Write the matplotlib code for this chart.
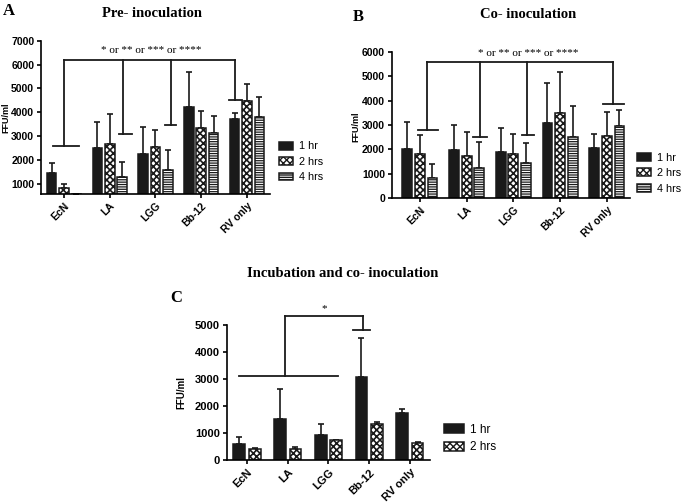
import numpy as np
import matplotlib.pyplot as plt

groups = ['EcN', 'LA', 'LGG', 'Bb-12', 'RV only']

# panel A: pre-inoculation
a_1hr = [1450, 2500, 2250, 4200, 3700]
a_1hr_err = [1870, 3600, 3390, 5680, 3950]
a_2hrs = [800, 2670, 2530, 3330, 4480]
a_2hrs_err = [1000, 3940, 3250, 4050, 5170]
a_4hrs = [580, 1270, 1550, 3140, 3800]
a_4hrs_err = [580, 1890, 2400, 3850, 4650]

# panel B: co-inoculation
b_1hr = [2010, 1960, 1900, 3070, 2060]
b_1hr_err = [3110, 3000, 2890, 4720, 2650]
b_2hrs = [1790, 1730, 1790, 3480, 2540]
b_2hrs_err = [2590, 2720, 2630, 5190, 3540]
b_4hrs = [830, 1240, 1450, 2520, 2940]
b_4hrs_err = [1390, 2310, 2270, 3770, 3630]

# panel C: incubation and co-inoculation
c_1hr = [610, 1540, 920, 3060, 1760]
c_1hr_err = [870, 2620, 1320, 4540, 1910]
c_2hrs = [420, 430, 730, 1330, 620]
c_2hrs_err = [440, 470, 760, 1410, 660]

labels = ['1 hr', '2 hrs', '4 hrs']
hatches = [None, 'xxxxx', '-------']
hatch_lw = [1.0, 1.2, 0.9]
faces = ['#1a1a1a', 'white', 'white']

fig = plt.figure(figsize=(6.85, 5.04), dpi=100)
axA = fig.add_axes([0.060, 0.615, 0.334, 0.304])
axB = fig.add_axes([0.572, 0.607, 0.348, 0.290])
axC = fig.add_axes([0.331, 0.087, 0.297, 0.268])


def draw_bars(ax, series, errs, width, offsets):
    x = np.arange(len(groups))
    for i, (vals, top) in enumerate(zip(series, errs)):
        vals = np.array(vals)
        up = np.array(top) - vals
        with plt.rc_context({'hatch.linewidth': hatch_lw[i]}):
            ax.bar(x + offsets[i], vals, width, color=faces[i], hatch=hatches[i],
                   edgecolor='#1a1a1a', linewidth=1.1, label=labels[i], zorder=2)
        ax.errorbar(x + offsets[i], vals, yerr=[np.zeros_like(up), up], fmt='none',
                    ecolor='#1a1a1a', elinewidth=1.2, capsize=2.5, capthick=1.2, zorder=1)


def style(ax, lo, hi, step, fs):
    ax.spines['top'].set_visible(False)
    ax.spines['right'].set_visible(False)
    ax.spines['left'].set_linewidth(1.2)
    ax.spines['bottom'].set_linewidth(1.2)
    ax.set_ylim(lo, hi)
    ax.set_xticks(np.arange(len(groups)))
    ax.set_xticklabels(groups, rotation=45, ha='right', rotation_mode='anchor',
                       fontsize=fs, fontweight='bold', family='Liberation Sans')
    ticks = np.arange(step if lo > 0 else 0, hi + 1, step)
    ax.set_yticks(ticks)
    ax.set_yticklabels([str(int(t)) for t in ticks], fontsize=fs, fontweight='bold',
                       family='Liberation Sans')
    ax.tick_params(length=3, width=1.2, pad=2)
    ax.set_ylabel('FFU/ml', fontsize=fs - 1, fontweight='bold', family='Liberation Sans')


def bracket(ax, top, xs, ys, spans):
    kw = dict(color='#1a1a1a', lw=1.3, clip_on=False, zorder=3)
    ax.plot([xs[0], xs[-1]], [top, top], **kw)
    for x, y, (s0, s1) in zip(xs, ys, spans):
        ax.plot([x, x], [top, y], **kw)
        ax.plot([s0, s1], [y, y], **kw)


leg_kw = dict(loc='center left', frameon=False, handleheight=0.75, handletextpad=0.5,
              labelspacing=0.5, borderpad=0, borderaxespad=0)

# A
draw_bars(axA, [a_1hr, a_2hrs, a_4hrs], [a_1hr_err, a_2hrs_err, a_4hrs_err], 0.21, [-0.27, 0, 0.27])
axA.set_xlim(-0.5, 4.5)
style(axA, 560, 7000, 1000, 7.5)
bracket(axA, 6200, [0.0, 1.3, 2.33, 3.74], [2600, 3100, 3480, 4530],
        [(-0.24, 0.33), (1.2, 1.48), (2.2, 2.45), (3.6, 3.9)])
axA.text(1.91, 6600, '* or ** or *** or ****', ha='center', va='center', fontsize=8,
         family='Liberation Serif')
axA.yaxis.set_label_coords(-0.135, 0.5)
axA.legend(bbox_to_anchor=(1.04, 0.21), handlelength=1.3,
           prop={'family': 'Liberation Sans', 'size': 7.8}, **leg_kw)

# B
draw_bars(axB, [b_1hr, b_2hrs, b_4hrs], [b_1hr_err, b_2hrs_err, b_4hrs_err], 0.21, [-0.27, 0, 0.27])
axB.set_xlim(-0.6, 4.5)
style(axB, 0, 6000, 1000, 7.5)
bracket(axB, 5570, [0.16, 1.28, 2.29, 4.13], [2790, 2520, 2590, 3870],
        [(-0.05, 0.39), (1.14, 1.43), (2.18, 2.44), (3.92, 4.37)])
axB.text(2.31, 5930, '* or ** or *** or ****', ha='center', va='center', fontsize=8,
         family='Liberation Serif')
axB.yaxis.set_label_coords(-0.134, 0.49)
axB.legend(bbox_to_anchor=(1.03, 0.17), handlelength=1.3,
           prop={'family': 'Liberation Sans', 'size': 7.8}, **leg_kw)

# C
draw_bars(axC, [c_1hr, c_2hrs], [c_1hr_err, c_2hrs_err], 0.29, [-0.19, 0.19])
axC.set_xlim(-0.5, 4.5)
style(axC, 0, 5000, 1000, 8)
top = 5330
kw = dict(color='#1a1a1a', lw=1.3, clip_on=False, zorder=3)
axC.plot([0.92, 2.84], [top, top], **kw)
axC.plot([0.92, 0.92], [top, 3120], **kw)
axC.plot([-0.2, 2.23], [3120, 3120], **kw)
axC.plot([2.84, 2.84], [top, 4810], **kw)
axC.plot([2.61, 3.02], [4810, 4810], **kw)
axC.text(1.9, 5600, '*', ha='center', va='center', fontsize=8, family='Liberation Serif')
axC.yaxis.set_label_coords(-0.2, 0.5)
axC.legend(bbox_to_anchor=(1.07, 0.16), handlelength=1.7,
           prop={'family': 'Liberation Sans', 'size': 8.5}, **leg_kw)

serif_b = dict(family='Liberation Serif', fontweight='bold')
fig.text(0.004, 0.995, 'A', fontsize=12, va='top', **serif_b)
fig.text(0.222, 0.974, 'Pre- inoculation', fontsize=10.5, ha='center', va='center', **serif_b)
fig.text(0.515, 0.982, 'B', fontsize=12, va='top', **serif_b)
fig.text(0.771, 0.972, 'Co- inoculation', fontsize=10.5, ha='center', va='center', **serif_b)
fig.text(0.501, 0.458, 'Incubation and co- inoculation', fontsize=10.5, ha='center', va='center', **serif_b)
fig.text(0.248, 0.425, 'C', fontsize=12, va='top', **serif_b)

fig.savefig('out.png', dpi=100)
